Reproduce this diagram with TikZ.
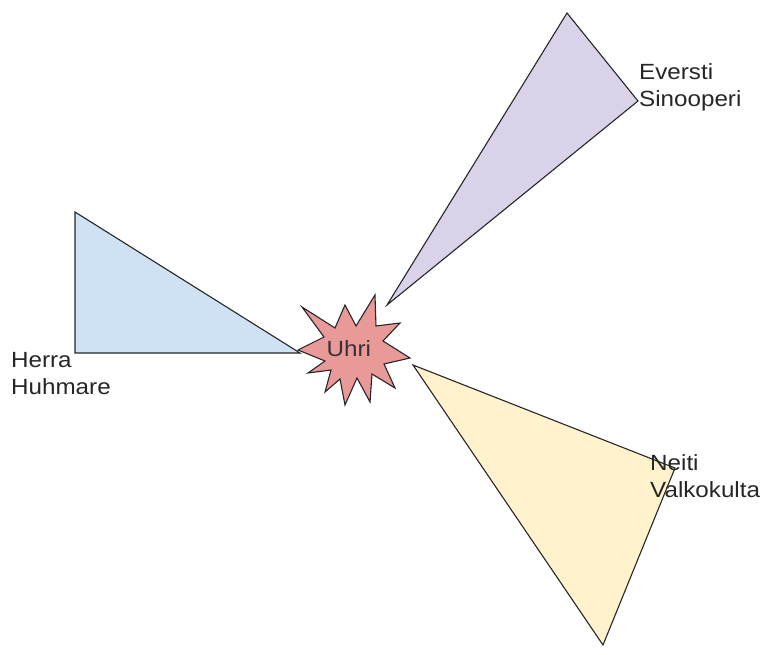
\documentclass[tikz,border=0pt]{standalone}
\usepackage{fontspec}
\setmainfont[FakeStretch=1.1]{Liberation Sans}
\definecolor{herrablue}{HTML}{CFE2F3}
\definecolor{eversticol}{HTML}{D9D2E9}
\definecolor{neiticol}{HTML}{FFF2CC}
\definecolor{uhrired}{HTML}{EA9999}
\tikzset{suspect/.style={draw=black!85, line width=1.1pt, line join=miter}}
\tikzset{name label/.style={anchor=north west, inner sep=0pt, align=left,
    font=\fontsize{22}{27}\selectfont, text=black!85}}

\begin{document}
\begin{tikzpicture}[x=1pt, y=-1pt]
    \useasboundingbox (0,0) rectangle (769,655);
    % suspects
    \draw[suspect, fill=herrablue] (75,212) -- (75,353) -- (300,353) -- cycle;
    \draw[suspect, fill=eversticol] (567,13) -- (638,101) -- (387,305) -- cycle;
    \draw[suspect, fill=neiticol] (413,365) -- (675,468) -- (603,645) -- cycle;
    % victim
    \draw[suspect, fill=uhrired] (302,307) -- (335,328) -- (345,305) -- (356,326)
        -- (375,295) -- (376,326) -- (400,323) -- (383,341) -- (410,358)
        -- (384,364) -- (395,388) -- (372,374) -- (370,402) -- (357,378)
        -- (345,405) -- (340,379) -- (325,392) -- (331,370) -- (308,373)
        -- (325,361) -- (298,350) -- (324,337) -- cycle;
    \node[anchor=base west, inner sep=0pt, font=\fontsize{22}{27}\selectfont,
        text=black!80] (uhri) at (326.5,356) {Uhri};
    \node[name label] (herra) at (11,352) {Herra\\Huhmare};
    \node[name label] (eversti) at (639,63) {Eversti\\Sinooperi};
    \node[name label] (neiti) at (650,454) {Neiti\\Valkokulta};
\end{tikzpicture}
\end{document}
